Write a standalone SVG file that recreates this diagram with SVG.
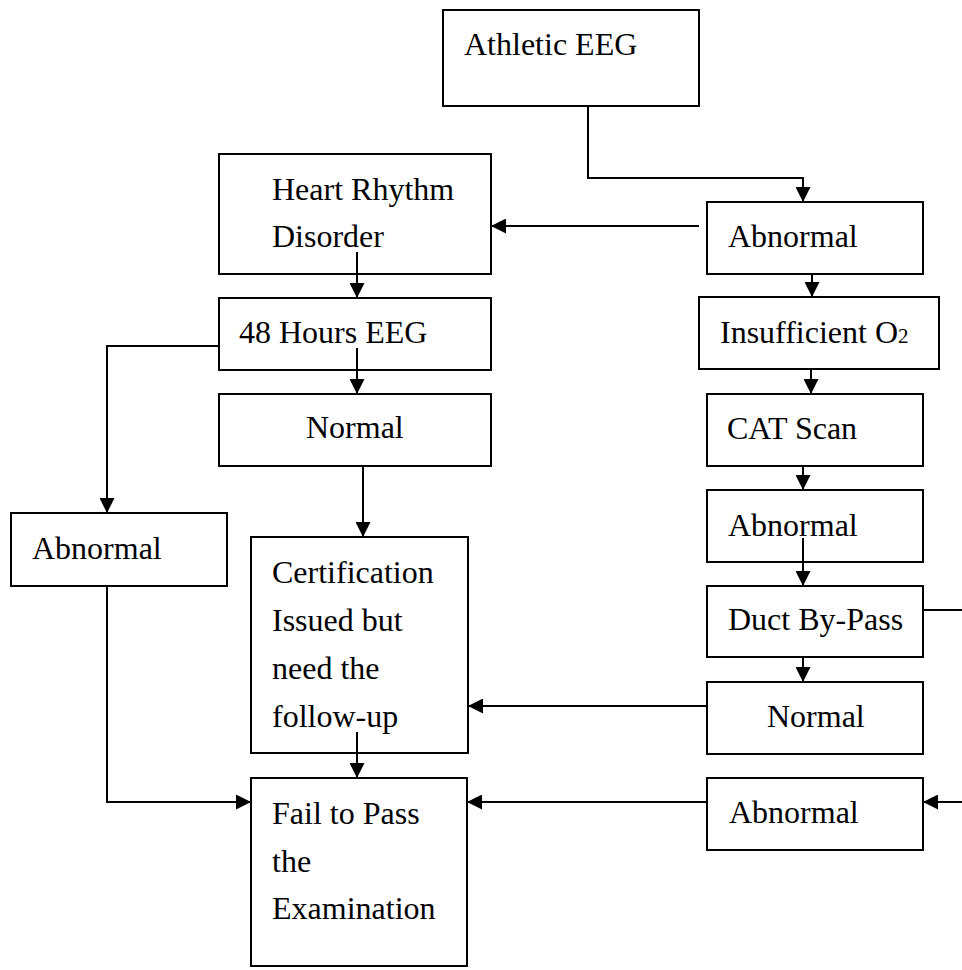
<svg xmlns="http://www.w3.org/2000/svg" width="962" height="970" viewBox="0 0 962 970">
<style>
.box{fill:#fff;stroke:#000;stroke-width:2}
.t{font-family:"Liberation Serif","Times New Roman",serif;font-size:32px;fill:#000}
.c{fill:none;stroke:#000;stroke-width:2}
</style>
<defs>
<marker id="ah" markerUnits="userSpaceOnUse" markerWidth="15" markerHeight="15" refX="15" refY="7.5" orient="auto">
<path d="M0,0 L15,7.5 L0,15 z" fill="#000"/>
</marker>
</defs>
<rect width="962" height="970" fill="#fff"/>
<g id="n-athletic"><rect class="box" x="443" y="10" width="256" height="96"/><text class="t" x="464" y="55">Athletic EEG</text></g>
<g id="n-heart"><rect class="box" x="219" y="154" width="272" height="120"/><text class="t" x="272" y="200">Heart Rhythm</text><text class="t" x="272" y="247">Disorder</text></g>
<g id="n-abn1"><rect class="box" x="707" y="202" width="216" height="72"/><text class="t" x="728" y="247">Abnormal</text></g>
<g id="n-48h"><rect class="box" x="219" y="298" width="272" height="72"/><text class="t" x="239" y="343">48 Hours EEG</text></g>
<g id="n-o2"><rect class="box" x="699" y="297" width="240" height="72"/><text class="t" x="720" y="343">Insufficient O<tspan font-size="21">2</tspan></text></g>
<g id="n-normal1"><rect class="box" x="219" y="394" width="272" height="72"/><text class="t" x="306" y="438">Normal</text></g>
<g id="n-cat"><rect class="box" x="707" y="394" width="216" height="72"/><text class="t" x="727" y="439">CAT Scan</text></g>
<g id="n-abn-left"><rect class="box" x="11" y="513" width="216" height="73"/><text class="t" x="32" y="559">Abnormal</text></g>
<g id="n-cert"><rect class="box" x="251" y="537" width="217" height="216"/><text class="t" x="272" y="583">Certification</text><text class="t" x="272" y="631">Issued but</text><text class="t" x="272" y="679">need the</text><text class="t" x="272" y="727">follow-up</text></g>
<g id="n-abn2"><rect class="box" x="707" y="490" width="216" height="72"/><text class="t" x="728" y="536">Abnormal</text></g>
<g id="n-duct"><rect class="box" x="707" y="586" width="216" height="71"/><text class="t" x="728" y="630">Duct By-Pass</text></g>
<g id="n-normal2"><rect class="box" x="707" y="682" width="216" height="72"/><text class="t" x="767" y="727">Normal</text></g>
<g id="n-fail"><rect class="box" x="251" y="778" width="216" height="188"/><text class="t" x="272" y="824">Fail to Pass</text><text class="t" x="272" y="872">the</text><text class="t" x="272" y="919">Examination</text></g>
<g id="n-abn3"><rect class="box" x="707" y="778" width="216" height="72"/><text class="t" x="729" y="823">Abnormal</text></g>
<g id="connectors">
<path class="c" d="M588,106 V178 H803 V202" marker-end="url(#ah)"/>
<path class="c" d="M699,226 H491" marker-end="url(#ah)"/>
<path class="c" d="M357,252 V298" marker-end="url(#ah)"/>
<path class="c" d="M812,274 V297" marker-end="url(#ah)"/>
<path class="c" d="M357,348 V394" marker-end="url(#ah)"/>
<path class="c" d="M219,346 H107 V513" marker-end="url(#ah)"/>
<path class="c" d="M811,369 V394" marker-end="url(#ah)"/>
<path class="c" d="M803,466 V490" marker-end="url(#ah)"/>
<path class="c" d="M803,538 V586" marker-end="url(#ah)"/>
<path class="c" d="M803,657 V682" marker-end="url(#ah)"/>
<path class="c" d="M923,610 H966 V802 H923" marker-end="url(#ah)"/>
<path class="c" d="M707,706 H468" marker-end="url(#ah)"/>
<path class="c" d="M363,466 V537" marker-end="url(#ah)"/>
<path class="c" d="M357,732 V778" marker-end="url(#ah)"/>
<path class="c" d="M107,586 V802 H251" marker-end="url(#ah)"/>
<path class="c" d="M707,802 H467" marker-end="url(#ah)"/>
</g>
</svg>
